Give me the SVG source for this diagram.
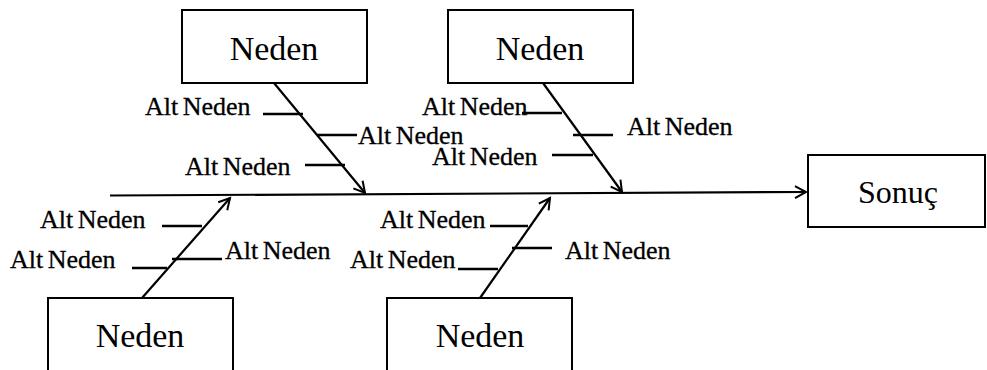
<svg xmlns="http://www.w3.org/2000/svg" width="987" height="370" viewBox="0 0 987 370">
  <style>
    .box { fill: #ffffff; stroke: #000000; stroke-width: 2; }
    .line { fill: none; stroke: #000000; stroke-width: 2.5; }
    .arrow { fill: none; stroke: #000000; stroke-width: 2.2; marker-end: url(#head); }
    .cause { font-family: "Liberation Serif", "Times New Roman", serif; font-size: 34px; fill: #000000; text-anchor: middle; }
    .sub { font-family: "Liberation Serif", "Times New Roman", serif; font-size: 26px; fill: #000000; stroke: #000000; stroke-width: 0.3; word-spacing: -2px; }
  </style>
  <defs>
    <marker id="head" markerUnits="userSpaceOnUse" markerWidth="16" markerHeight="16" refX="12" refY="7" orient="auto">
      <path d="M1,1 L12,7 L1,13" fill="none" stroke="#000000" stroke-width="2"/>
    </marker>
  </defs>
  <rect width="987" height="370" fill="#ffffff"/>

  <!-- spine, bones and sub-cause ticks -->
  <g id="connectors">
    <line class="arrow" x1="110" y1="195.5" x2="806" y2="192"/>
    <line class="arrow" x1="274" y1="83" x2="365" y2="193"/>
    <line class="arrow" x1="543" y1="83" x2="622" y2="192"/>
    <line class="arrow" x1="142" y1="298" x2="230" y2="198"/>
    <line class="arrow" x1="480" y1="298" x2="550" y2="198"/>

    <line class="line" x1="263" y1="114" x2="303" y2="114"/>
    <line class="line" x1="317" y1="135" x2="357" y2="135"/>
    <line class="line" x1="305" y1="165" x2="345" y2="165"/>

    <line class="line" x1="522" y1="113" x2="562" y2="113"/>
    <line class="line" x1="573" y1="135" x2="613" y2="135"/>
    <line class="line" x1="552" y1="155" x2="593" y2="155"/>

    <line class="line" x1="162" y1="226" x2="202" y2="226"/>
    <line class="line" x1="172" y1="259" x2="222" y2="259"/>
    <line class="line" x1="132" y1="268" x2="167" y2="268"/>

    <line class="line" x1="490" y1="226" x2="528" y2="226"/>
    <line class="line" x1="512" y1="248" x2="552" y2="248"/>
    <line class="line" x1="458" y1="269" x2="498" y2="269"/>
  </g>

  <!-- sub-cause labels -->
  <g id="labels">
    <text class="sub" x="145" y="115">Alt Neden</text>
    <text class="sub" x="358" y="144">Alt Neden</text>
    <text class="sub" x="185" y="175">Alt Neden</text>

    <text class="sub" x="422" y="115">Alt Neden</text>
    <text class="sub" x="627" y="135">Alt Neden</text>
    <text class="sub" x="432" y="165">Alt Neden</text>

    <text class="sub" x="40" y="228">Alt Neden</text>
    <text class="sub" x="225" y="259">Alt Neden</text>
    <text class="sub" x="10" y="268">Alt Neden</text>

    <text class="sub" x="380" y="228">Alt Neden</text>
    <text class="sub" x="565" y="259">Alt Neden</text>
    <text class="sub" x="350" y="268">Alt Neden</text>
  </g>

  <g id="cause-top-left">
    <rect class="box" x="182" y="10" width="185" height="73"/>
    <text class="cause" x="274" y="60">Neden</text>
  </g>
  <g id="cause-top-right">
    <rect class="box" x="448" y="10" width="185" height="73"/>
    <text class="cause" x="540" y="60">Neden</text>
  </g>
  <g id="cause-bottom-left">
    <rect class="box" x="48" y="298" width="185" height="80"/>
    <text class="cause" x="140" y="347">Neden</text>
  </g>
  <g id="cause-bottom-right">
    <rect class="box" x="387" y="298" width="185" height="80"/>
    <text class="cause" x="480" y="347">Neden</text>
  </g>
  <g id="effect">
    <rect class="box" x="808" y="155" width="177" height="72"/>
    <text class="cause" x="898" y="203" style="font-size:32px">Sonuç</text>
  </g>
</svg>
